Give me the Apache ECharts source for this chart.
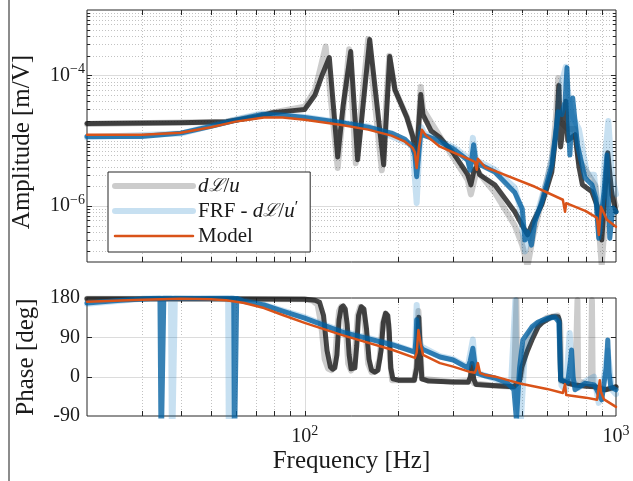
<!DOCTYPE html>
<html><head><meta charset="utf-8">
<script src="https://cdn.jsdelivr.net/npm/echarts/dist/echarts.min.js"></script>
<style>html,body{margin:0;padding:0;background:#fff}#c{width:633px;height:481px}</style>
</head><body><div id="c"></div>
<script>
// ---------------- data ----------------
// Model (orange) amplitude
const modelAmpFreq = [20, 30, 40, 50, 60, 74, 85, 100, 130, 160, 190, 210, 222, 226, 229, 233, 238, 245, 272, 300, 340, 352, 357, 360, 380, 408, 549, 675, 686, 692, 800, 869, 881, 895, 935, 1000];
const modelAmp = [1.23e-5, 1.23e-5, 1.32e-5, 1.6e-5, 1.95e-5, 2.25e-5, 2.25e-5, 2.09e-5, 1.75e-5, 1.47e-5, 1.19e-5, 9.6e-6, 7.8e-6, 6.6e-6, 3.8e-6, 8e-6, 1.47e-5, 1.2e-5, 8.05e-6, 6.6e-6, 5.1e-6, 4.73e-6, 3.57e-6, 5.26e-6, 3.9e-6, 3.44e-6, 1.96e-6, 1.24e-6, 8.1e-7, 1.1e-6, 8.3e-7, 6.55e-7, 3.59e-7, 9.66e-7, 6.1e-7, 4.77e-7];
// Model phase
const modelPhaseFreq = [20, 30, 40, 50, 56, 64, 74, 85, 100, 132, 192, 226, 229, 232, 236, 240, 272, 300, 339, 352, 357, 360, 366, 380, 410, 500, 600, 675, 686, 692, 800, 869, 887, 895, 915, 1000];
const modelPhase = [171.5, 176, 178, 177, 175, 168.5, 157, 141, 123, 95, 61, 43, 55, 107, 75, 50, 31, 23, 11, 9, 20, 31, 8, 4, 0, -17, -28, -37.5, -17, -42, -48, -53, -8, -35, -52, -69];

// dL/u measurements (grey): dense trace and lighter spread trace
const grayAmpFreq = [20, 40, 56, 70, 79, 90, 100, 108, 114, 120, 124, 127.7, 133, 140.6, 148, 161.8, 179.4, 187.6, 195, 213, 222, 229, 236, 240, 255, 272, 300, 334, 342, 350, 357, 365, 408, 473, 500, 520, 545, 578, 622, 645, 655, 664, 680, 690, 700, 739, 760, 780, 837, 870, 900, 941, 970, 1000];
const grayAmp = [1.82e-5, 1.88e-5, 1.95e-5, 2.3e-5, 2.67e-5, 2.85e-5, 3.0e-5, 5.0e-5, 1.03e-4, 1.87e-4, 3e-5, 5.6e-6, 3.5e-5, 2.31e-4, 5.08e-6, 3.53e-4, 4.26e-6, 1.94e-4, 6e-5, 2.25e-5, 1.2e-5, 6e-6, 5.06e-5, 2.5e-5, 1.4e-5, 1.11e-5, 6.5e-6, 3e-6, 2.1e-6, 3.5e-6, 4e-6, 3e-6, 2.1e-6, 8.1e-7, 5e-7, 3.6e-7, 6e-7, 1.05e-6, 3.3e-6, 1.6e-5, 7e-5, 8e-6, 2e-5, 4e-5, 1e-5, 1.23e-5, 4e-6, 2.1e-6, 1.64e-6, 1e-6, 3e-7, 6.5e-6, 1.5e-6, 8.1e-7];
const grayLightAmpFreq = [20, 56, 79, 100, 108, 112, 116.8, 121, 127.7, 139, 146, 160, 177, 187, 195, 213, 222, 229, 236, 240, 272, 300, 334, 342, 357, 408, 473, 500, 520, 545, 578, 622, 640, 652, 660, 700, 739, 760, 800, 860, 900, 940, 1000];
const grayLightAmp = [1.8e-5, 1.95e-5, 2.7e-5, 3.3e-5, 6e-5, 1.2e-4, 2.76e-4, 5e-5, 3.8e-6, 2.5e-4, 4.5e-6, 3.6e-4, 3.5e-6, 2e-4, 6e-5, 2.3e-5, 1.2e-5, 5e-6, 6.7e-5, 3e-5, 1.15e-5, 5.5e-6, 2.5e-6, 1.5e-6, 3.5e-6, 1.6e-6, 5e-7, 2.5e-7, 1.2e-7, 4e-7, 1.2e-6, 5e-6, 2e-5, 9e-5, 2e-5, 1.5e-5, 1.5e-5, 5e-6, 3.5e-6, 2e-6, 1.2e-7, 2.5e-6, 1e-6];
const grayPhaseFreq = [20, 50, 100, 108, 111.7, 115, 118, 121, 123, 125, 127, 129, 131, 133, 135, 137, 139, 141, 143, 145, 147, 149, 152, 155, 158, 161, 164, 168, 172, 176, 179, 182, 185, 187, 189, 192, 200, 225, 229, 232.6, 235, 238, 250, 300, 335, 341, 345, 349, 355, 400, 470, 490, 498, 520, 537, 562, 578, 622, 652, 658, 664, 700, 739, 800, 852, 925, 1000];
const grayPhase = [178, 178.5, 177, 175, 170, 140, 60, 22, 17, 20, 50, 130, 158, 162, 155, 120, 50, 18, 14, 20, 70, 140, 160, 155, 110, 40, 15, 10, 15, 60, 125, 145, 140, 100, 20, -5, -8, -8, 20, 136, 60, -5, -10, -12, -13, 0, 30, -5, -18, -20, -23, -10, 22, 60, 84, 114, 123, 137, 137, 128, -7.6, -15, -19, -22, -23, -30, -23];
const grayLightPhaseFreq = [20, 100, 106, 110, 113, 116, 119, 122, 125, 127, 129, 131, 134, 136, 138, 141, 144, 146, 148, 151, 154, 157, 160, 164, 169, 174, 178, 182, 186, 188, 191, 225, 229, 232, 235, 238, 300, 340, 344, 350, 400, 470, 479, 482, 495, 510, 530, 560, 600, 650, 662, 666, 740, 752, 756, 830, 837, 842, 900, 1000];
const grayLightPhase = [178, 177, 174, 165, 120, 40, 18, 15, 30, 100, 150, 160, 150, 100, 30, 14, 25, 80, 140, 160, 150, 100, 30, 10, 12, 40, 120, 145, 120, 40, -8, -8, 30, 150, 80, -5, -12, -10, 20, -15, -20, -23, 175, -15, 0, 60, 100, 120, 135, 140, 120, -10, -15, 175, -10, -20, 175, -20, -30, -25];

// FRF - dL/u' (blue): dense trace and lighter spread trace
const blueAmpFreq = [20, 30, 40, 50, 60, 72.6, 85, 100, 130, 160, 190, 210, 222, 226, 229, 233, 236, 242, 261, 300, 334, 340, 349, 355, 365, 408, 473, 500, 510, 520, 535, 549, 578, 622, 652, 670, 686, 696, 705, 711, 726, 752, 795, 837, 862, 880, 915, 935, 955, 977, 1000];
const blueAmp = [1.15e-5, 1.15e-5, 1.3e-5, 1.65e-5, 2.05e-5, 2.5e-5, 2.45e-5, 2.25e-5, 1.9e-5, 1.6e-5, 1.3e-5, 1.05e-5, 8e-6, 6e-6, 2.8e-6, 7e-6, 1.31e-5, 1.2e-5, 1.05e-5, 7.5e-6, 5e-6, 3.5e-6, 8.6e-6, 4.5e-6, 4.3e-6, 3.3e-6, 1.6e-6, 9e-7, 3e-7, 4e-7, 2.5e-7, 5.7e-7, 1.15e-6, 4.2e-6, 2.77e-5, 2.5e-5, 4e-5, 1.31e-4, 1.5e-5, 6e-6, 4.5e-5, 8.6e-6, 2.7e-6, 2.1e-6, 1.3e-6, 3.2e-7, 1.64e-6, 6e-6, 3.2e-7, 9.3e-7, 8.1e-7];
const blueLightAmpFreq = [20, 40, 60, 72.6, 100, 160, 222, 229, 233, 237, 242, 261, 300, 334, 340, 347, 355, 408, 473, 490, 510, 530, 560, 600, 640, 660, 690, 700, 720, 760, 808, 850, 890, 920, 945, 970, 1000];
const blueLightAmp = [1.12e-5, 1.28e-5, 2.1e-5, 2.6e-5, 2.3e-5, 1.65e-5, 8.5e-6, 1.1e-6, 6e-6, 1.6e-5, 1.3e-5, 1.1e-5, 8e-6, 5.5e-6, 4e-6, 1.1e-5, 5e-6, 3.6e-6, 1.9e-6, 1e-6, 2e-7, 4e-7, 8e-7, 2.5e-6, 1e-5, 6e-5, 1.35e-4, 6e-5, 2.5e-5, 1.5e-5, 3e-6, 3e-6, 4e-7, 5e-6, 2e-5, 3e-6, 1.5e-6];
const bluePhaseFreq = [20, 25, 32, 34.3, 34.6, 35.0, 35.3, 45, 59.2, 59.5, 60.2, 60.5, 64, 74, 85, 100, 132, 192, 226, 228, 229, 231, 235, 240, 272, 300, 334, 340, 347, 352, 357, 380, 408, 448, 470, 479, 490, 502, 537, 562, 604, 636, 656, 660, 664, 700, 715, 720, 728, 739, 795, 852, 900, 930, 941, 950, 962, 1000];
const bluePhase = [168.5, 174, 179, 179.5, -179, -179, 179.5, 179, 179.5, -179, -179, 179, 172, 164, 150, 134, 102, 72.5, 56, 90, 130, 100, 70, 62, 45, 38, 20, 35, 65, 30, 8, 2, -3, -14.6, -30, -100, 20, 84, 114, 125, 134, 136, 125, 60, -7.6, -12, 40, 61, 0, -30, -15, -19, -53, 20, 84, 10, -23, -30];
const blueLightPhaseFreq = [20, 30, 37.2, 37.5, 38, 38.3, 56.8, 57.1, 57.8, 58.1, 64, 74, 100, 132, 192, 226, 229, 232, 236, 272, 300, 334, 347, 352, 360, 408, 460, 475, 480, 495, 510, 540, 580, 640, 655, 668, 690, 710, 725, 760, 800, 850, 880, 900, 940, 970, 1000];
const blueLightPhase = [167, 178, 179.5, -179, -179, 179.5, 179.5, -179, -179, 179.5, 174, 164, 136, 104, 74, 57, 164, 100, 70, 47, 40, 22, 85, 30, 8, -5, -20, 175, -60, -100, 60, 110, 128, 138, 130, -20, -30, 100, -10, -25, -10, 0, -60, -40, 60, -30, -40];

// Axis ticks
const freqMinorTicks = [30, 40, 50, 60, 70, 80, 90, 200, 300, 400, 500, 600, 700, 800, 900];
const freqMajorTicks = [100];
const ampMajorTicks = [1e-6, 1e-4];
const ampMinorTicks = [2e-7, 3e-7, 4e-7, 5e-7, 6e-7, 7e-7, 8e-7, 9e-7,
  2e-6, 3e-6, 4e-6, 5e-6, 6e-6, 7e-6, 8e-6, 9e-6, 1e-5,
  2e-5, 3e-5, 4e-5, 5e-5, 6e-5, 7e-5, 8e-5, 9e-5,
  2e-4, 3e-4, 4e-4, 5e-4, 6e-4, 7e-4, 8e-4, 9e-4];
const phaseTicks = [-90, 0, 90, 180];
const phaseGridTicks = [0, 90];
const ampTickLabels = {'-4': '−4', '-6': '−6'};
const freqTickLabels = {'2': '2', '3': '3'};

// ---------------- chart ----------------
const FONT = '"Liberation Serif", "DejaVu Serif", serif';
const TXT = '#1a1a1a';
const pairs = (f, v) => f.map((x, i) => [x, v[i]]);

const GRAY_L = 'rgba(0,0,0,0.2)';
const GRAY_D = 'rgba(30,30,30,0.82)';
const BLUE_L = 'rgba(0,114,189,0.22)';
const BLUE_D = 'rgba(0,95,160,0.78)';
const ORANGE = '#D95319';

function lineSeries(name, xi, yi, data, color, width, z) {
  return {
    type: 'line', name: name, xAxisIndex: xi, yAxisIndex: yi, data: data,
    symbol: 'none', showSymbol: false, smooth: false, clip: true, silent: true,
    animation: false, z: z,
    lineStyle: {color: color, width: width, cap: 'round', join: 'round'},
    itemStyle: {color: color}
  };
}

function gridSeries(xi, yi, items) {
  return {
    type: 'custom', xAxisIndex: xi, yAxisIndex: yi, silent: true, animation: false, z: 1,
    encode: {x: 0, y: 1},
    data: items,
    renderItem: function (params, api) {
      const cs = params.coordSys;
      const kind = api.value(2);
      const p = api.coord([api.value(0), api.value(1)]);
      const minor = {stroke: '#c2c2c2', lineWidth: 1, lineDash: [1, 2]};
      const major = {stroke: '#dcdcdc', lineWidth: 1};
      const tk = {stroke: '#262626', lineWidth: 1};
      const ch = [];
      if (kind < 2) {
        const x = Math.round(p[0]) + 0.5;
        const L = 5;
        ch.push({type: 'line', shape: {x1: x, y1: cs.y, x2: x, y2: cs.y + cs.height}, style: kind === 0 ? minor : major});
        ch.push({type: 'line', shape: {x1: x, y1: cs.y + cs.height, x2: x, y2: cs.y + cs.height - L}, style: tk});
        ch.push({type: 'line', shape: {x1: x, y1: cs.y, x2: x, y2: cs.y + L}, style: tk});
      } else {
        const y = Math.round(p[1]) + 0.5;
        const L = kind === 2 ? 3 : 5;
        ch.push({type: 'line', shape: {x1: cs.x, y1: y, x2: cs.x + cs.width, y2: y}, style: kind === 2 ? minor : major});
        ch.push({type: 'line', shape: {x1: cs.x, y1: y, x2: cs.x + L, y2: y}, style: tk});
        ch.push({type: 'line', shape: {x1: cs.x + cs.width, y1: y, x2: cs.x + cs.width - L, y2: y}, style: tk});
      }
      return {type: 'group', children: ch};
    }
  };
}

const topGridItems = [].concat(
  freqMinorTicks.map(v => [v, 1e-5, 0]),
  freqMajorTicks.map(v => [v, 1e-5, 1]),
  ampMinorTicks.map(v => [100, v, 2]),
  ampMajorTicks.map(v => [100, v, 3])
);
const botGridItems = [].concat(
  freqMinorTicks.map(v => [v, 0, 0]),
  freqMajorTicks.map(v => [v, 0, 1]),
  phaseGridTicks.map(v => [100, v, 3])
);

const supRich = {
  b: {fontSize: 20, fontFamily: FONT, color: TXT},
  s: {fontSize: 14, fontFamily: FONT, color: TXT, padding: [0, 0, 12, 0]}
};
function expKey(v) { return String(Math.round(Math.log10(v))); }
function isPow(v) { const e = Math.log10(v); return Math.abs(e - Math.round(e)) < 1e-6; }

const noSym = {color: 'rgba(0,0,0,0)', borderWidth: 0, opacity: 0};

const option = {
  animation: false,
  backgroundColor: '#fff',
  graphic: [{type: 'rect', shape: {x: 8, y: 0, width: 2, height: 481}, style: {fill: '#8c8c8c'}, silent: true}],
  grid: [
    {left: 87, right: 17, top: 10, height: 252, show: true, borderColor: '#262626', borderWidth: 1, backgroundColor: '#fff', containLabel: false, outerBoundsMode: 'none'},
    {left: 87, right: 17, top: 298, height: 118, show: true, borderColor: '#262626', borderWidth: 1, backgroundColor: '#fff', containLabel: false, outerBoundsMode: 'none'}
  ],
  xAxis: [
    {type: 'log', logBase: 10, gridIndex: 0, min: 20, max: 1000,
     axisLine: {show: false}, axisTick: {show: false}, splitLine: {show: false}, axisLabel: {show: false}},
    {type: 'log', logBase: 10, gridIndex: 1, min: 20, max: 1000,
     axisLine: {show: false}, axisTick: {show: false}, splitLine: {show: false},
     axisLabel: {margin: 8, rich: supRich, showMinLabel: true, showMaxLabel: true,
       formatter: function (v) {
         if (!isPow(v)) return '';
         const k = freqTickLabels[expKey(v)];
         return k ? '{b|10}{s|' + k + '}' : '';
       }},
     name: 'Frequency [Hz]', nameLocation: 'middle', nameGap: 33,
     nameTextStyle: {fontSize: 25, fontFamily: FONT, color: TXT}}
  ],
  yAxis: [
    {type: 'log', logBase: 10, gridIndex: 0, min: 1.38e-7, max: 1e-3,
     axisLine: {show: false}, axisTick: {show: false}, splitLine: {show: false},
     axisLabel: {margin: 2, rich: supRich, showMinLabel: true, showMaxLabel: true,
       formatter: function (v) {
         if (!isPow(v)) return '';
         const k = ampTickLabels[expKey(v)];
         return k ? '{b|10}{s|' + k + '}' : '';
       }},
     name: 'Amplitude [m/V]', nameLocation: 'middle', nameGap: 52, nameRotate: 90,
     nameTextStyle: {fontSize: 25, fontFamily: FONT, color: TXT, padding: [0, 12, 0, 0]}},
    {type: 'value', gridIndex: 1, min: -90, max: 180, interval: 90,
     axisLine: {show: false}, axisTick: {show: false}, splitLine: {show: false},
     axisLabel: {margin: 7, fontSize: 20, fontFamily: FONT, color: TXT,
       formatter: function (v) { return phaseTicks.indexOf(v) >= 0 ? (v < 0 ? '-' + Math.abs(v) : String(v)) : ''; }},
     name: 'Phase [deg]', nameLocation: 'middle', nameGap: 42, nameRotate: 90,
     nameTextStyle: {fontSize: 25, fontFamily: FONT, color: TXT}}
  ],
  legend: {
    orient: 'vertical', left: 108, top: 172,
    itemWidth: 78, itemHeight: 14, itemGap: 3,
    padding: [3, 12, 5, 4],
    borderColor: '#262626', borderWidth: 1, backgroundColor: '#fff',
    selectedMode: false,
    data: [
      {name: 'dL/u', lineStyle: {width: 6, color: GRAY_L}, itemStyle: noSym},
      {name: 'FRF', lineStyle: {width: 6, color: BLUE_L}, itemStyle: noSym},
      {name: 'Model', lineStyle: {width: 2.5, color: ORANGE}, itemStyle: noSym}
    ],
    formatter: function (name) {
      if (name === 'dL/u') return '{i|d}{c|ℒ}{n|/}{i|u}';
      if (name === 'FRF') return '{n|FRF - }{i|d}{c|ℒ}{n|/}{i|u}{p|′}';
      return '{n|Model}';
    },
    textStyle: {fontSize: 21, fontFamily: FONT, color: TXT, lineHeight: 22,
      rich: {
        n: {fontSize: 21, fontFamily: FONT, color: TXT, lineHeight: 22},
        i: {fontSize: 21, fontFamily: FONT, color: TXT, fontStyle: 'italic', lineHeight: 22},
        c: {fontSize: 18, fontFamily: FONT, color: TXT, fontStyle: 'italic', lineHeight: 22},
        p: {fontSize: 16, fontFamily: FONT, color: TXT, lineHeight: 22, padding: [0, 0, 6, 0]}
      }}
  },
  series: [
    gridSeries(0, 0, topGridItems),
    gridSeries(1, 1, botGridItems),
    lineSeries('dL/u', 0, 0, pairs(grayLightAmpFreq, grayLightAmp), GRAY_L, 6, 2),
    lineSeries('g1', 0, 0, pairs(grayAmpFreq, grayAmp), GRAY_D, 5, 3),
    lineSeries('FRF', 0, 0, pairs(blueLightAmpFreq, blueLightAmp), BLUE_L, 6, 4),
    lineSeries('b1', 0, 0, pairs(blueAmpFreq, blueAmp), BLUE_D, 5, 5),
    lineSeries('Model', 0, 0, pairs(modelAmpFreq, modelAmp), ORANGE, 2.5, 6),
    lineSeries('dL/u', 1, 1, pairs(grayLightPhaseFreq, grayLightPhase), GRAY_L, 6, 2),
    lineSeries('g2', 1, 1, pairs(grayPhaseFreq, grayPhase), GRAY_D, 5, 3),
    lineSeries('FRF', 1, 1, pairs(blueLightPhaseFreq, blueLightPhase), BLUE_L, 6, 4),
    lineSeries('b2', 1, 1, pairs(bluePhaseFreq, bluePhase), BLUE_D, 5, 5),
    lineSeries('Model', 1, 1, pairs(modelPhaseFreq, modelPhase), ORANGE, 2.5, 6)
  ]
};

const chart = echarts.init(document.getElementById('c'), null, {renderer: 'canvas'});
chart.setOption(option);
</script></body></html>
